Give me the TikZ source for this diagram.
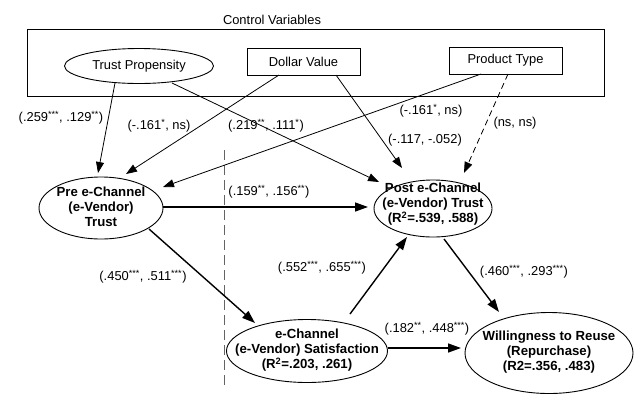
\documentclass[tikz,border=0pt]{standalone}
\usepackage{fontspec}
\setmainfont{Liberation Sans}
\usetikzlibrary{arrows.meta,calc,shapes.geometric}
\definecolor{dashgray}{RGB}{100,100,100}
\newcommand{\st}[1]{\textsuperscript{#1}}
\begin{document}
\begin{tikzpicture}[x=1pt,y=-1pt,
  lbl/.style={font=\fontsize{12.9}{15}\selectfont, inner sep=0pt},
  ctrl/.style={draw, line width=0.8pt, -{Triangle[length=11pt,width=8pt]}},
  mainarrow/.style={draw, line width=1.4pt, -{Triangle[length=13pt,width=9pt]}},
  construct/.style={ellipse, draw, line width=0.9pt, inner sep=0pt},
  ctext/.style={font=\bfseries\fontsize{13.2}{15}\selectfont, align=center, inner sep=0pt},
  ctrlbox/.style={rectangle, draw, line width=0.9pt, inner sep=0pt, font=\fontsize{12.9}{15}\selectfont},
]
\useasboundingbox (0,0) rectangle (634,397);

% control variables frame
\node[lbl] (cvt) at (272,20) {Control Variables};
\node[draw, line width=0.9pt, minimum width=577pt, minimum height=67pt, inner sep=0pt] (cvbox) at (315.5,62.5) {};

\node[construct, minimum width=149pt, minimum height=35pt, font=\fontsize{12.9}{15}\selectfont] (tp) at (139,66) {Trust Propensity};
\node[ctrlbox, minimum width=113pt, minimum height=27pt] (dv) at (303.5,61.5) {Dollar Value};
\node[ctrlbox, minimum width=113pt, minimum height=27pt] (pt) at (505.5,60.5) {Product Type};

% constructs
\node[construct, minimum width=124pt, minimum height=62pt] (pre) at (101,208) {};
\node[ctext] (pret) at (101,207) {Pre e-Channel\\(e-Vendor)\\Trust};
\node[construct, minimum width=118pt, minimum height=57pt] (post) at (433,208.5) {};
\node[ctext] (postt) at (433,204) {Post e-Channel\\(e-Vendor) Trust\\(R\st{2}=.539, .588)};
\node[construct, minimum width=161pt, minimum height=63pt] (sat) at (307,351) {};
\node[ctext] (satt) at (307,350.5) {e-Channel\\(e-Vendor) Satisfaction\\(R\st{2}=.203, .261)};
\node[construct, minimum width=168pt, minimum height=81pt] (will) at (549,353) {};
\node[ctext] (willt) at (549,352) {Willingness to Reuse\\(Repurchase)\\(R2=.356, .483)};

% dashed separator
\coordinate (dtop) at (224,150);
\coordinate (dbot) at (224,389);
\draw[dashgray, line width=1pt, dash pattern=on 10pt off 5pt] (dtop) -- (dbot);

% control arrows
\draw[ctrl] ($(tp)+(-24,17)$) -- ($(pre)+(-3,-35)$);
\draw[ctrl] ($(dv)+(-24.5,13.5)$) -- ($(pre)+(25,-34)$);
\draw[ctrl] ($(pt)+(-24.5,13.5)$) -- ($(pre)+(62,-21)$);
\draw[ctrl] ($(tp)+(33,17)$) -- ($(post)+(-54,-26.5)$);
\draw[ctrl] ($(dv)+(32.5,13.5)$) -- ($(post)+(-31,-40.5)$);
\draw[ctrl, dash pattern=on 6pt off 4pt] ($(pt)+(2.5,13.5)$) -- ($(post)+(31,-35.5)$);

% main arrows
\draw[mainarrow] ($(pre)+(62,-1)$) -- ($(post)+(-65,-1.5)$);
\draw[mainarrow] ($(pre)+(48,21)$) -- ($(sat)+(-52,-28)$);
\draw[mainarrow] ($(sat)+(43,-37)$) -- ($(post)+(-26,28.5)$);
\draw[mainarrow] ($(post)+(11,30.5)$) -- ($(will)+(-50,-41)$);
\draw[mainarrow] ($(sat)+(81,-3)$) -- ($(will)+(-88,-5)$);

% coefficient labels
\node[lbl] (l1) at (61,118) {(.259\st{***}, .129\st{**})};
\node[lbl] (l2) at (159,126) {(-.161\st{*}, ns)};
\node[lbl] (l3) at (266,126) {(.219\st{**}, .111\st{*})};
\node[lbl] (l4) at (431,111) {(-.161\st{*}, ns)};
\node[lbl] (l5) at (425,140) {(-.117, -.052)};
\node[lbl] (l6) at (515,123) {(ns, ns)};
\node[lbl] (l7) at (269,192) {(.159\st{**}, .156\st{**})};
\node[lbl] (l8) at (143,277) {(.450\st{***}, .511\st{***})};
\node[lbl] (l9) at (322,268) {(.552\st{***}, .655\st{***})};
\node[lbl] (l10) at (524,272) {(.460\st{***}, .293\st{***})};
\node[lbl] (l11) at (427,329) {(.182\st{**}, .448\st{***})};
\end{tikzpicture}
\end{document}
